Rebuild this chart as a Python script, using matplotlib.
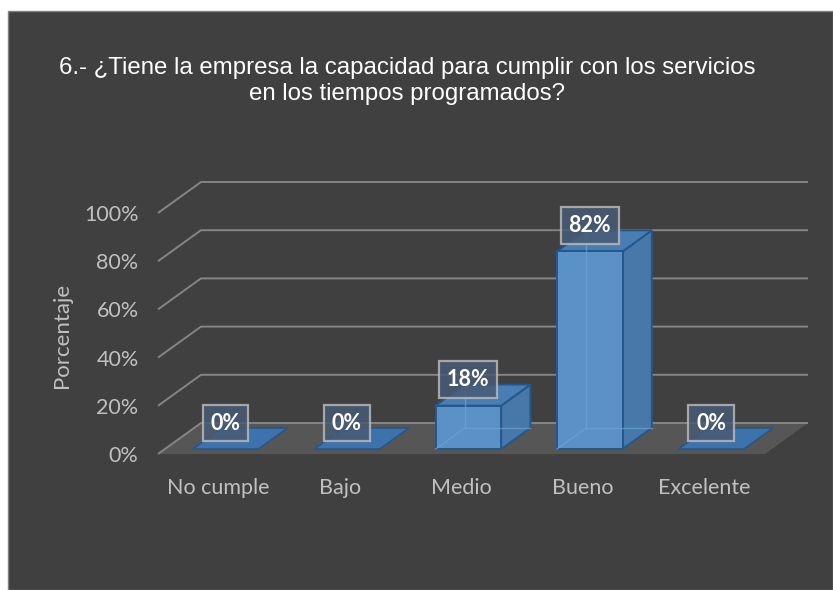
import matplotlib.pyplot as plt
from matplotlib.patches import Polygon, Rectangle

categorias = ['No cumple', 'Bajo', 'Medio', 'Bueno', 'Excelente']
porcentajes = [0, 0, 18, 82, 0]
etiquetas = ['0%', '0%', '18%', '82%', '0%']
marcas_y = [0, 20, 40, 60, 80, 100]
titulo = '6.- ¿Tiene la empresa la capacidad para cumplir con los servicios\nen los tiempos programados?'

# oblique projection for the fake 3D look: depth z in [0, 1]
DX = 0.354   # shift in category units at full depth
DY = 12.86   # shift in percent units at full depth
Z0, Z1 = 0.16, 0.84  # bar depth range
W = 0.27             # half width of a bar


def proj(x, y, z):
    return (x + z * DX, y + z * DY)


def poly(pts, **kw):
    return Polygon([proj(*p) for p in pts], closed=True, clip_on=False, **kw)


fig = plt.figure(figsize=(8.33, 5.90), dpi=100)
fig.patch.set_facecolor('white')
fig.patches.append(Rectangle((8 / 833, 0), 825 / 833, 579 / 590, transform=fig.transFigure,
                             facecolor='#404040', edgecolor='#808080', linewidth=1, zorder=-10))

ax = fig.add_axes([158 / 833, 136 / 590, 607 / 833, 241 / 590])
ax.set_facecolor('none')
ax.set_xlim(-0.5, 4.5)
ax.set_ylim(0, 100)
for s in ax.spines.values():
    s.set_visible(False)

n = len(categorias)

# floor
ax.add_patch(poly([(-0.5, 0, 0), (n - 0.5, 0, 0), (n - 0.5, 0, 1), (-0.5, 0, 1)],
                  facecolor='#565656', edgecolor='none', zorder=1))

# gridlines: short slanted piece on the left wall plus the back line
for v in marcas_y:
    xs, ys = zip(proj(-0.5, v, 0), proj(-0.5, v, 1), proj(n - 0.5, v, 1))
    ax.plot(xs, ys, color='#858585', linewidth=1.4, clip_on=False, zorder=2,
            solid_capstyle='butt')

borde = '#24578a'
for i, v in enumerate(porcentajes):
    if v == 0:
        ax.add_patch(poly([(i - W, 0, Z0), (i + W, 0, Z0), (i + W, 0, Z1), (i - W, 0, Z1)],
                          facecolor='#3d72ad', edgecolor=borde, linewidth=1.2, zorder=3))
    else:
        ax.add_patch(poly([(i + W, 0, Z0), (i + W, 0, Z1), (i + W, v, Z1), (i + W, v, Z0)],
                          facecolor='#4878aa', edgecolor=borde, linewidth=1.4, zorder=3))
        ax.add_patch(poly([(i - W, v, Z0), (i + W, v, Z0), (i + W, v, Z1), (i - W, v, Z1)],
                          facecolor='#4a7db3', edgecolor=borde, linewidth=1.4, zorder=3))
        ax.add_patch(poly([(i - W, 0, Z0), (i + W, 0, Z0), (i + W, v, Z0), (i - W, v, Z0)],
                          facecolor='#5a92c8', edgecolor=borde, linewidth=1.4, zorder=4))
        # hidden edges showing through the front face
        for a, b in [((i - W, 0, Z1), (i - W, v, Z1)),
                     ((i - W, 0, Z0), (i - W, 0, Z1)),
                     ((i - W, 0, Z1), (i + W, 0, Z1))]:
            (x1, y1), (x2, y2) = proj(*a), proj(*b)
            ax.plot([x1, x2], [y1, y2], color='#6aa3d8', linewidth=1, alpha=0.7,
                    clip_on=False, zorder=5)

    lx, ly = proj(i, v, Z0)[0], v + DY
    ax.text(lx, ly, etiquetas[i], ha='center', va='center', color='white',
            fontsize=15.5, fontweight='bold', family='Lato', zorder=7,
            bbox=dict(boxstyle='square,pad=0.36', facecolor='#485b74', alpha=0.85,
                      edgecolor='#b8b8b8', linewidth=1.6))

ax.set_yticks(marcas_y)
ax.set_yticklabels([f'{m}%' for m in marcas_y], va='center_baseline')
ax.set_xticks(range(n))
ax.set_xticklabels(categorias)
ax.tick_params(axis='y', length=0, pad=14, labelsize=15.5, labelcolor='#c0c0c0')
ax.tick_params(axis='x', length=0, pad=17, labelsize=15.5, labelcolor='#c0c0c0')
for lab in ax.get_xticklabels() + ax.get_yticklabels():
    lab.set_family('Lato')

fig.text(62 / 833, 1 - 335 / 590, 'Porcentaje', rotation=90, ha='center', va='center',
         color='#c0c0c0', fontsize=16, family='Lato')

fig.text(407 / 833, 1 - 81 / 590, titulo, ha='center', va='center', color='white',
         fontsize=17.3, family='Liberation Sans', linespacing=1.2)

fig.savefig('out.png', dpi=100, facecolor=fig.get_facecolor())
